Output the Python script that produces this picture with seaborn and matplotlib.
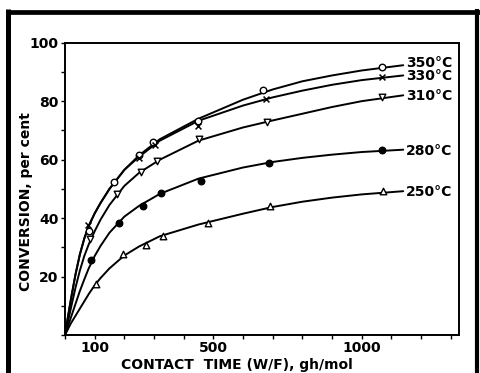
import numpy as np
import pandas as pd
import matplotlib
matplotlib.use("Agg")
import matplotlib.pyplot as plt
import seaborn as sns
from matplotlib.lines import Line2D

# labels of the five temperatures
temps = ['350°C', '330°C', '310°C', '280°C', '250°C']

# measured points (contact time, conversion %)
pts_350_x = [80, 164, 250, 297, 447, 669, 1067]
pts_350_y = [35.5, 52.5, 61.7, 66.1, 73.3, 83.9, 91.7]
pts_330_x = [78, 248, 303, 447, 678, 1067]
pts_330_y = [37.5, 60.5, 65.0, 71.6, 80.9, 88.4]
pts_310_x = [84, 174, 256, 311, 450, 681, 1069]
pts_310_y = [33.0, 48.3, 55.7, 59.4, 67.0, 73.0, 81.3]
pts_280_x = [89, 181, 263, 322, 459, 689, 1069]
pts_280_y = [25.6, 38.4, 44.3, 48.5, 52.6, 58.9, 63.4]
pts_250_x = [103, 197, 272, 331, 481, 692, 1072]
pts_250_y = [17.3, 27.8, 30.9, 33.8, 38.3, 44.1, 49.1]

# smooth curves
curve_x = [0, 10, 20, 35, 50, 65, 80, 100, 120, 150, 200, 250, 320, 450,
           600, 700, 800, 900, 1000, 1140]
curve_350 = [0, 6.2, 12.2, 20.5, 27.5, 33, 37.3, 41.6, 45.2, 50, 56.5, 61.5, 67, 74,
             80.5, 84, 86.8, 88.8, 90.5, 92.3]
curve_330 = [0, 6.2, 12.2, 20.5, 27.5, 33, 37.3, 41.6, 45.2, 50, 56.5, 61, 66.5, 73.3,
             78.5, 81.3, 83.6, 85.6, 87.2, 88.8]
curve_310 = [0, 4.6, 9.2, 16, 22, 27, 31, 35.5, 39.5, 44.5, 51, 55.5, 60, 66.5,
             71, 73.4, 75.7, 78, 80, 82]
curve_280 = [0, 3, 6, 10.5, 15, 19, 22.8, 27, 30.5, 35, 40.5, 44.2, 48.3, 53.5,
             57.3, 59.2, 60.6, 61.7, 62.6, 63.4]
curve_250 = [0, 2, 4, 6.5, 9, 11.5, 14, 17, 19.5, 22.8, 27.2, 30.3, 33.8, 37.8,
             41.5, 43.8, 45.6, 47, 48.1, 49.2]

label_y = [93.0, 88.6, 81.8, 63.0, 48.9]

pts = [(pts_350_x, pts_350_y), (pts_330_x, pts_330_y), (pts_310_x, pts_310_y),
       (pts_280_x, pts_280_y), (pts_250_x, pts_250_y)]
curves = [curve_350, curve_330, curve_310, curve_280, curve_250]
markers = ['o', 'x', 'v', 'o', '^']
fills = ['white', 'black', 'white', 'black', 'white']

sns.set_style("ticks")
plt.rcParams['font.family'] = ['DejaVu Sans']
for k in ['text.color', 'axes.labelcolor', 'xtick.color', 'ytick.color', 'axes.edgecolor']:
    plt.rcParams[k] = 'black'

fig = plt.figure(figsize=(4.81, 3.73), dpi=100)
ax = fig.add_axes([0.1351, 0.1019, 0.8192, 0.7836])

curve_df = pd.concat([pd.DataFrame({'x': curve_x, 'y': c, 'T': t})
                      for c, t in zip(curves, temps)])
sns.lineplot(data=curve_df, x='x', y='y', units='T', estimator=None,
             color='black', lw=1.4, ax=ax, legend=False)

for (px, py), m, fc in zip(pts, markers, fills):
    if m == 'x':
        sns.scatterplot(x=px, y=py, marker='x', color='black', s=18,
                        linewidth=1.1, ax=ax, zorder=5)
    else:
        sns.scatterplot(x=px, y=py, marker=m, facecolor=fc, edgecolor='black',
                        s=22, linewidth=1.0, ax=ax, zorder=5)

for t, ly in zip(temps, label_y):
    ax.text(1150, ly, t, fontsize=10, fontweight='bold', va='center', ha='left')

ax.set_xlim(0, 1328)
ax.set_ylim(0, 100)
xt = list(range(0, 1301, 100))
ax.set_xticks(xt)
ax.set_xticklabels(['100' if v == 100 else '500' if v == 500 else '1000' if v == 1000 else ''
                    for v in xt])
yt = list(range(0, 101, 10))
ax.set_yticks(yt)
ax.set_yticklabels([str(v) if v in (20, 40, 60, 80, 100) else '' for v in yt])
ax.tick_params(direction='out', length=3, width=1, labelsize=10, pad=1.5)
for lab in ax.get_xticklabels() + ax.get_yticklabels():
    lab.set_fontweight('bold')
for s in ax.spines.values():
    s.set_linewidth(1.4)
    s.set_visible(True)

ax.set_xlabel('CONTACT  TIME (W/F), gh/mol', fontsize=10, fontweight='bold')
ax.set_ylabel('CONVERSION, per cent', fontsize=10, fontweight='bold')
ax.xaxis.set_label_coords(0.437, -0.079)
ax.yaxis.set_label_coords(-0.08, 0.455)

# thick scan border (left, top, right)
kw = dict(transform=fig.transFigure, color='black', solid_capstyle='butt')
fig.add_artist(Line2D([0.0173, 0.0173], [0, 0.975], lw=3.6, **kw))
fig.add_artist(Line2D([0.012, 1.0], [0.9686, 0.9686], lw=3.4, **kw))
fig.add_artist(Line2D([0.9927, 0.9927], [0, 0.975], lw=3.0, **kw))

fig.savefig('out.png', dpi=100)
